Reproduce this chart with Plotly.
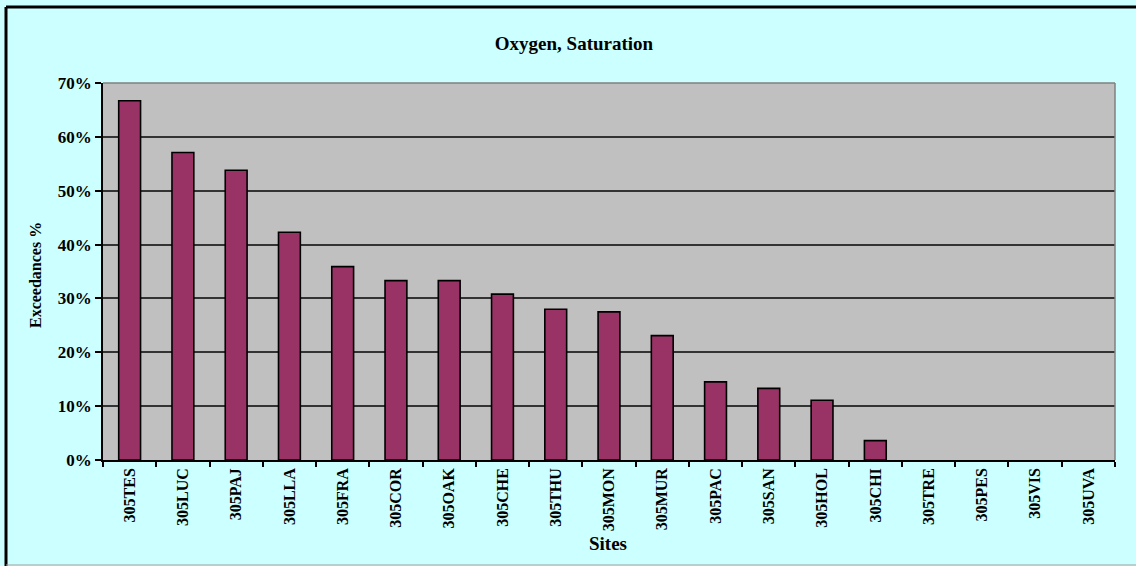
import plotly.graph_objects as go

sites = ["305TES", "305LUC", "305PAJ", "305LLA", "305FRA", "305COR", "305OAK",
         "305CHE", "305THU", "305MON", "305MUR", "305PAC", "305SAN", "305HOL",
         "305CHI", "305TRE", "305PES", "305VIS", "305UVA"]
exceedances = [0.667, 0.571, 0.538, 0.423, 0.359, 0.333, 0.333,
               0.308, 0.280, 0.275, 0.231, 0.145, 0.133, 0.111,
               0.036, 0.0, 0.0, 0.0, 0.0]
y_ticks = [0, 0.1, 0.2, 0.3, 0.4, 0.5, 0.6, 0.7]

FONT = "Liberation Serif"

fig = go.Figure()
fig.add_trace(go.Bar(
    x=sites, y=exceedances,
    marker=dict(color="#993366",
                line=dict(color="#000000", width=[1.6 if v > 0 else 0 for v in exceedances])),
    width=0.41,
))

W, H = 1136, 566
L, R, T, B = 103, 21, 83, 106
pw, ph = W - L - R, H - T - B

def px(x):
    return (x - L) / pw

def py(y):
    return (H - B - y) / ph

fig.update_layout(
    width=W, height=H,
    margin=dict(l=L, r=R, t=T, b=B, autoexpand=False),
    paper_bgcolor="#CCFFFF",
    plot_bgcolor="#C0C0C0",
    showlegend=False,
    title=dict(text="Oxygen, Saturation", x=574 / W, xref="container", xanchor="center",
               y=1 - 43 / H, yref="container", yanchor="middle",
               font=dict(family=FONT, size=19, color="#000000", weight="bold")),
    xaxis=dict(
        type="category", tickangle=-90, ticks="outside", tickson="boundaries",
        ticklen=5, tickcolor="#000000", tickwidth=1.5,
        showline=True, linecolor="#000000", linewidth=1.5,
        showgrid=False, automargin=False,
        tickfont=dict(family=FONT, size=16, color="#000000", weight="bold"),
    ),
    yaxis=dict(
        range=[0, 0.7], tickvals=y_ticks, tickformat=".0%",
        ticks="outside", ticklen=6, tickcolor="#000000", tickwidth=1.5,
        showline=True, linecolor="#000000", linewidth=1.5,
        showgrid=True, gridcolor="#333333", gridwidth=1.5,
        zeroline=False, automargin=False,
        tickfont=dict(family=FONT, size=17, color="#000000", weight="bold"),
    ),
    annotations=[
        dict(text="Exceedances %", xref="paper", yref="paper", x=px(35), y=py(275),
             textangle=-90, showarrow=False, xanchor="center", yanchor="middle",
             font=dict(family=FONT, size=16, color="#000000", weight="bold")),
        dict(text="Sites", xref="paper", yref="paper", x=px(608), y=py(543),
             showarrow=False, xanchor="center", yanchor="middle",
             font=dict(family=FONT, size=19, color="#000000", weight="bold")),
    ],
    shapes=[
        dict(type="line", xref="paper", yref="paper", x0=0, x1=1, y0=1, y1=1,
             line=dict(color="#808080", width=1.5)),
        dict(type="line", xref="paper", yref="paper", x0=1, x1=1, y0=0, y1=1,
             line=dict(color="#808080", width=1.5)),
        dict(type="line", xref="paper", yref="paper", x0=px(6), x1=px(W + 5), y0=py(7), y1=py(7),
             line=dict(color="#000000", width=3)),
        dict(type="line", xref="paper", yref="paper", x0=px(6), x1=px(6), y0=py(7), y1=py(H + 5),
             line=dict(color="#000000", width=3)),
        dict(type="line", xref="paper", yref="paper", x0=px(6), x1=px(W + 5), y0=py(565), y1=py(565),
             line=dict(color="#A0A0A0", width=1)),
    ],
)

fig.write_html("out.html", config={"displayModeBar": False},
               post_script="document.body.style.margin='0';document.body.style.overflow='hidden';")
